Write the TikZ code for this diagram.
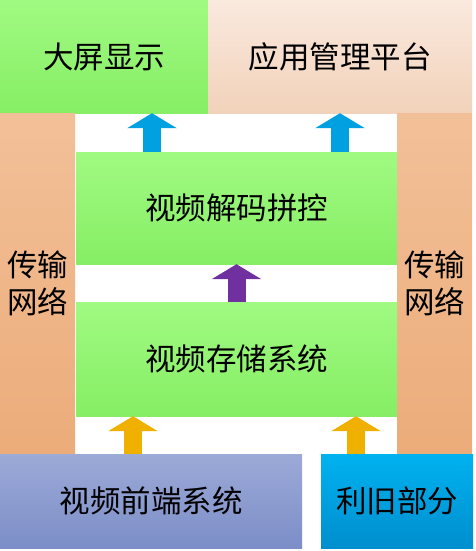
\documentclass[tikz,border=0pt]{standalone}
\usepackage{fontspec}
\setmainfont{Noto Sans CJK SC}
\usepackage{tikz}
\usetikzlibrary{positioning, calc, arrows.meta}
\definecolor{boxgreentop}{RGB}{160,250,130}
\definecolor{boxgreenbot}{RGB}{134,238,100}
\definecolor{peachtop}{RGB}{250,233,222}
\definecolor{peachbot}{RGB}{242,210,186}
\definecolor{orangetop}{RGB}{242,192,152}
\definecolor{orangebot}{RGB}{236,172,122}
\definecolor{slatetop}{RGB}{156,170,215}
\definecolor{slatebot}{RGB}{124,142,200}
\definecolor{skytop}{RGB}{0,178,240}
\definecolor{skybot}{RGB}{0,142,206}
\definecolor{arrblue}{RGB}{0,160,225}
\definecolor{arrpurple}{RGB}{112,48,160}
\definecolor{arryellow}{RGB}{240,176,0}
\tikzset{
  layerbox/.style={draw=none, inner sep=0pt, align=center,
    font=\fontsize{30.5}{37}\selectfont},
  greenbox/.style={layerbox, top color=boxgreentop, bottom color=boxgreenbot},
  peachbox/.style={layerbox, top color=peachtop, bottom color=peachbot},
  netbox/.style={layerbox, top color=orangetop, bottom color=orangebot},
  slatebox/.style={layerbox, top color=slatetop, bottom color=slatebot},
  skybox/.style={layerbox, top color=skytop, bottom color=skybot},
  flowarrow/.style={line width=18pt, -{Triangle[width=49pt, length=15pt]}}
}
\begin{document}
\begin{tikzpicture}[x=1pt, y=-1pt]
  \useasboundingbox (0,0) rectangle (475,551);
  % top row
  \node[greenbox, minimum width=208pt, minimum height=113pt] (show) at (104,56.5) {大屏显示};
  \node[peachbox, minimum width=264pt, minimum height=113pt] (mgmt) at (340,56.5) {应用管理平台};
  % transport network columns
  \node[netbox, minimum width=75pt, minimum height=341pt] (netl) at (37.5,283.5) {传输\\网络};
  \node[netbox, minimum width=75pt, minimum height=341pt] (netr) at (434.5,283.5) {传输\\网络};
  % middle layers
  \node[greenbox, minimum width=321pt, minimum height=112pt] (dec) at (236.5,208) {视频解码拼控};
  \node[greenbox, minimum width=321pt, minimum height=114pt] (store) at (236.5,359) {视频存储系统};
  % bottom row
  \node[slatebox, minimum width=302pt, minimum height=94pt] (front) at (151,501) {视频前端系统};
  \node[skybox, minimum width=152pt, minimum height=94pt] (legacy) at (397,501) {利旧部分};
  % arrows
  \draw[flowarrow, arrblue] ([xshift=-84.5pt]dec.north) -- ([xshift=-84.5pt]dec.north |- show.south);
  \draw[flowarrow, arrblue] ([xshift=103.5pt]dec.north) -- ([xshift=103.5pt]dec.north |- mgmt.south);
  \draw[flowarrow, arrpurple] (store.north) -- (dec.south);
  \draw[flowarrow, arryellow] ([xshift=-18pt]front.north) -- ([xshift=-18pt]front.north |- store.south);
  \draw[flowarrow, arryellow] ([xshift=-41pt]legacy.north) -- ([xshift=-41pt]legacy.north |- store.south);
\end{tikzpicture}
\end{document}
